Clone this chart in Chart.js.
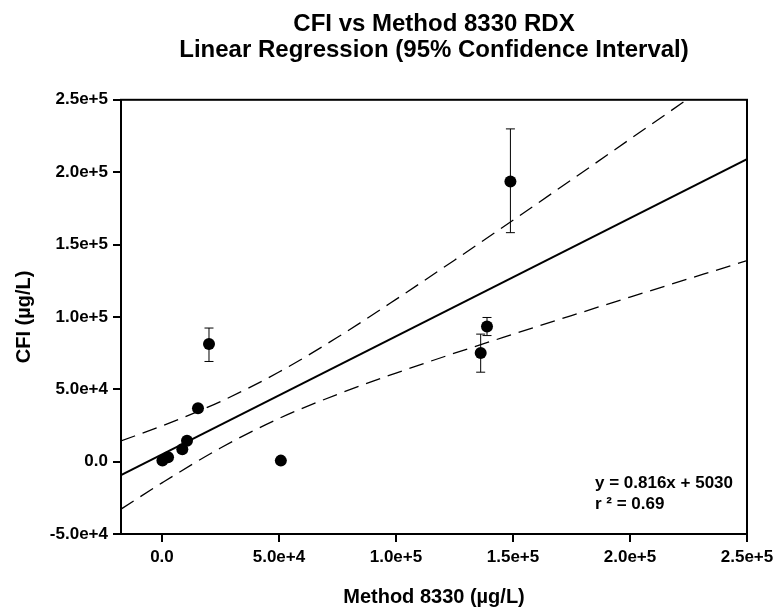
<!DOCTYPE html>
<html>
<head>
<meta charset="utf-8">
<script src="https://cdn.jsdelivr.net/npm/chart.js@4"></script>
<style>
  html, body { margin: 0; padding: 0; background: #fff; }
</style>
</head>
<body>
<canvas id="chart" width="775" height="609"></canvas>
<script>
// measured points (Method 8330 vs CFI, ug/L)
const xVals = [200, 2600, 8700, 10700, 15400, 20100, 50800, 136200, 138900, 148900];
const yVals = [700, 3000, 8600, 14500, 36900, 81200, 700, 75000, 93400, 193600];
const errHigh = [null, null, null, null, null, 92300, null, 88100, 99600, 229900];
const errLow  = [null, null, null, null, null, 69200, null, 61800, 87100, 158200];

// regression line y = 0.816x + 5030
const fitX = [-17500, 250000];
const fitY = [-9250, 209030];

// 95% confidence band
const bandX     = [-17500, 0, 25000, 50000, 75000, 100000, 125000, 150000, 175000, 200000, 225000, 250000];
const bandUpper = [14300, 24700, 41500, 61900, 85900, 112100, 139200, 166800, 194700, 222800, 250900, 279100];
const bandLower = [-32800, -14700, 9400, 29800, 46500, 61200, 74900, 88000, 100900, 113700, 126300, 138900];

const xTicks = [0, 50000, 100000, 150000, 200000, 250000];
const xTickLabels = ['0.0', '5.0e+4', '1.0e+5', '1.5e+5', '2.0e+5', '2.5e+5'];
const yTicks = [-50000, 0, 50000, 100000, 150000, 200000, 250000];
const yTickLabels = ['-5.0e+4', '0.0', '5.0e+4', '1.0e+5', '1.5e+5', '2.0e+5', '2.5e+5'];

const titleLines = ['CFI vs Method 8330 RDX', 'Linear Regression (95% Confidence Interval)'];
const eqLines = ['y = 0.816x + 5030', 'r \u00b2 = 0.69'];

const FONT = '"Liberation Sans", Arial, sans-serif';

function pairs(xs, ys) {
  return xs.map((x, i) => ({ x: x, y: ys[i] }));
}

const errorBars = {
  id: 'errorBars',
  afterDatasetsDraw(chart) {
    const { ctx, scales: { x, y } } = chart;
    ctx.save();
    ctx.strokeStyle = '#000';
    ctx.lineWidth = 1;
    xVals.forEach((xv, i) => {
      if (errHigh[i] == null) return;
      const px = x.getPixelForValue(xv);
      const top = y.getPixelForValue(errHigh[i]);
      const bot = y.getPixelForValue(errLow[i]);
      ctx.beginPath();
      ctx.moveTo(px, top); ctx.lineTo(px, bot);
      ctx.moveTo(px - 4.5, top); ctx.lineTo(px + 4.5, top);
      ctx.moveTo(px - 4.5, bot); ctx.lineTo(px + 4.5, bot);
      ctx.stroke();
    });
    ctx.restore();
  }
};

const frameAndText = {
  id: 'frameAndText',
  afterDraw(chart) {
    const { ctx, chartArea: a } = chart;
    ctx.save();
    ctx.strokeStyle = '#000';
    ctx.lineWidth = 2;
    ctx.strokeRect(a.left, a.top, a.right - a.left, a.bottom - a.top);
    ctx.fillStyle = '#000';
    ctx.font = 'bold 17px ' + FONT;
    ctx.textBaseline = 'alphabetic';
    ctx.fillText(eqLines[0], a.right - 152, a.bottom - 46);
    ctx.fillText(eqLines[1], a.right - 152, a.bottom - 25);
    ctx.restore();
  }
};

new Chart(document.getElementById('chart'), {
  type: 'scatter',
  data: {
    datasets: [
      {
        label: 'data',
        data: pairs(xVals, yVals),
        pointRadius: 6,
        pointBackgroundColor: '#000',
        pointBorderColor: '#000',
        pointBorderWidth: 0
      },
      {
        label: 'fit',
        data: pairs(fitX, fitY),
        showLine: true,
        borderColor: '#000',
        borderWidth: 2,
        pointRadius: 0
      },
      {
        label: 'upper 95%',
        data: pairs(bandX, bandUpper),
        showLine: true,
        borderColor: '#000',
        borderWidth: 1.3,
        borderDash: [15, 8],
        cubicInterpolationMode: 'monotone',
        pointRadius: 0
      },
      {
        label: 'lower 95%',
        data: pairs(bandX, bandLower),
        showLine: true,
        borderColor: '#000',
        borderWidth: 1.3,
        borderDash: [15, 8],
        cubicInterpolationMode: 'monotone',
        pointRadius: 0
      }
    ]
  },
  options: {
    responsive: false,
    animation: false,
    layout: { padding: { left: 0, right: 28, top: 0, bottom: 0 } },
    plugins: {
      legend: { display: false },
      tooltip: { enabled: false },
      title: {
        display: true,
        text: titleLines,
        fullSize: false,
        color: '#000',
        font: { family: FONT, size: 24, weight: 'bold', lineHeight: 1.1 },
        padding: { top: 11, bottom: 36 }
      }
    },
    scales: {
      x: {
        type: 'linear',
        min: -17500,
        max: 250000,
        afterBuildTicks(axis) { axis.ticks = xTicks.map(v => ({ value: v })); },
        afterFit(axis) {
          axis.height = 75;
          axis.paddingLeft = 0;
          axis.paddingRight = 0;
        },
        ticks: {
          color: '#000',
          padding: 5,
          font: { family: FONT, size: 17, weight: 'bold' },
          callback: (v) => xTickLabels[xTicks.indexOf(v)]
        },
        grid: { drawOnChartArea: false, drawTicks: true, tickLength: 8, color: '#000', lineWidth: 2 },
        border: { display: true, color: '#000', width: 2 },
        title: {
          display: true,
          text: 'Method 8330 (\u00b5g/L)',
          color: '#000',
          font: { family: FONT, size: 20, weight: 'bold' },
          padding: { top: 0, bottom: 0 }
        }
      },
      y: {
        type: 'linear',
        min: -50000,
        max: 250000,
        afterBuildTicks(axis) { axis.ticks = yTicks.map(v => ({ value: v })); },
        afterFit(axis) { axis.width = 121; },
        ticks: {
          color: '#000',
          padding: 5,
          font: { family: FONT, size: 17, weight: 'bold' },
          callback: (v) => yTickLabels[yTicks.indexOf(v)]
        },
        grid: { drawOnChartArea: false, drawTicks: true, tickLength: 8, color: '#000', lineWidth: 2 },
        border: { display: true, color: '#000', width: 2 },
        title: {
          display: true,
          text: 'CFI (\u00b5g/L)',
          color: '#000',
          font: { family: FONT, size: 20, weight: 'bold' },
          padding: { top: 12, bottom: 0 }
        }
      }
    }
  },
  plugins: [errorBars, frameAndText]
});
</script>
</body>
</html>
